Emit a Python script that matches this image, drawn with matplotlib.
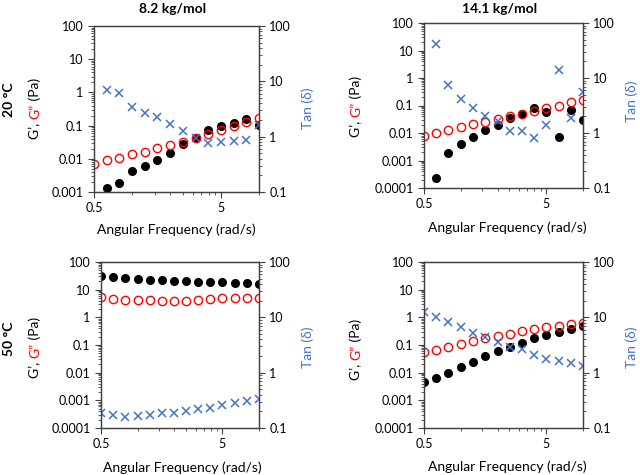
import matplotlib
matplotlib.use("Agg")
import matplotlib.pyplot as plt
import numpy as np
from matplotlib.ticker import FixedLocator, NullFormatter, FuncFormatter, LogLocator

plt.rcParams['font.family'] = ['Lato', 'DejaVu Sans']

# Angular frequency (rad/s)
freq = [0.5, 0.63, 0.79, 1.0, 1.26, 1.58, 2.0, 2.51, 3.16, 3.98, 5.0, 6.31, 7.94, 10.0]
nan = np.nan

# 8.2 kg/mol, 20 C
g1_20 = [nan, 0.0013, 0.0019, 0.0042, 0.0062, 0.0089, 0.015, 0.027, 0.043, 0.076, 0.095, 0.117, 0.158, 0.105]
g2_20 = [0.0069, 0.0089, 0.0107, 0.014, 0.016, 0.021, 0.026, 0.033, 0.042, 0.056, 0.076, 0.095, 0.13, 0.166]
tan_20 = [nan, 6.95, 6.05, 3.44, 2.68, 2.30, 1.72, 1.24, 0.96, 0.78, 0.81, 0.83, 0.86, 1.6]

# 14.1 kg/mol, 20 C
g1_20b = [nan, 0.00024, 0.0018, 0.0039, 0.0069, 0.013, 0.0195, 0.036, 0.049, 0.079, 0.058, 0.0069, 0.069, 0.029]
g2_20b = [0.0078, 0.010, 0.013, 0.016, 0.021, 0.026, 0.033, 0.042, 0.050, 0.064, 0.083, 0.10, 0.13, 0.16]
tan_20b = [nan, 42, 7.4, 4.1, 2.85, 2.0, 1.67, 1.09, 1.09, 0.81, 1.42, 14.0, 1.87, 5.6]

# 8.2 kg/mol, 50 C
g1_50 = [30, 28, 25.7, 24.3, 23, 21.7, 21, 20, 19.4, 18.9, 18.4, 17.4, 16.9, 15.6]
g2_50 = [5.6, 4.7, 4.35, 4.2, 4.1, 4.0, 4.0, 4.0, 4.2, 4.5, 4.9, 5.0, 5.0, 5.1]
tan_50 = [0.19, 0.17, 0.16, 0.165, 0.174, 0.184, 0.19, 0.203, 0.217, 0.233, 0.257, 0.279, 0.303, 0.334]

# 14.1 kg/mol, 50 C
g1_50b = [0.0047, 0.0066, 0.010, 0.0156, 0.025, 0.039, 0.059, 0.087, 0.118, 0.184, 0.236, 0.295, 0.39, 0.47]
g2_50b = [0.056, 0.066, 0.082, 0.109, 0.14, 0.174, 0.217, 0.26, 0.31, 0.37, 0.435, 0.49, 0.56, 0.64]
tan_50b = [12.5, 10.3, 8.4, 6.7, 5.3, 4.5, 3.6, 2.9, 2.7, 2.1, 1.74, 1.65, 1.48, 1.3]

blue = '#4472C4'
W, H = 640, 475
fig = plt.figure(figsize=(6.4, 4.75), dpi=100)

def px(x, y):
    return x / W, 1 - y / H

def fmt(v, pos):
    return '%g' % v

def style_y(a):
    a.yaxis.set_major_locator(LogLocator(base=10, numticks=20))
    a.yaxis.set_major_formatter(FuncFormatter(fmt))
    a.yaxis.set_minor_locator(LogLocator(base=10, subs=np.arange(2, 10), numticks=100))
    a.yaxis.set_minor_formatter(NullFormatter())
    a.tick_params(which='both', direction='out', labelsize=9, color='#404040')
    a.tick_params(which='major', length=4, width=0.8)
    a.tick_params(which='minor', length=2.5, width=0.6)
    for s in a.spines.values():
        s.set_color('#404040')
        s.set_linewidth(0.9)

def make_panel(left, right, top, bottom, gp, gpp, tan, ymin):
    ax = fig.add_axes([left / W, 1 - bottom / H, (right - left) / W, (bottom - top) / H])
    ax.set_xscale('log')
    ax.set_yscale('log')
    ax.plot(freq, gp, 'o', color='black', markersize=5.5, zorder=3)
    ax.plot(freq, gpp, 'o', mfc='none', mec='red', mew=1.0, markersize=6, zorder=4)
    ax.set_xlim(0.5, 10)
    ax.set_ylim(ymin, 100)
    ax.xaxis.set_major_locator(FixedLocator([0.5, 5]))
    ax.xaxis.set_major_formatter(FuncFormatter(fmt))
    ax.xaxis.set_minor_locator(FixedLocator([1, 1.5, 2, 2.5, 3, 3.5, 4, 4.5, 10]))
    ax.xaxis.set_minor_formatter(NullFormatter())
    style_y(ax)

    ax2 = ax.twinx()
    ax2.set_yscale('log')
    ax2.plot(freq, tan, 'x', color=blue, markersize=6, mew=1.1)
    ax2.set_ylim(0.1, 100)
    style_y(ax2)
    return ax, ax2

panels = [
    (94, 259, 26, 192, g1_20, g2_20, tan_20, 0.001),
    (424, 583, 23, 188, g1_20b, g2_20b, tan_20b, 0.0001),
    (101, 259, 262, 428, g1_50, g2_50, tan_50, 0.0001),
    (424, 583, 262, 428, g1_50b, g2_50b, tan_50b, 0.0001),
]
for p in panels:
    make_panel(*p)

fs = 10
# x labels
for xc, yc in [(176, 230), (507, 228), (182, 468), (507, 467)]:
    fig.text(*px(xc, yc), 'Angular Frequency (rad/s)', ha='center', va='center', fontsize=fs)

# right labels
for xc, yc in [(308, 108), (632, 101), (308, 347), (632, 347)]:
    fig.text(*px(xc, yc), 'Tan (δ)', ha='center', va='center', rotation=90, fontsize=fs, color=blue)

# titles and row labels
fig.text(*px(173, 9), '8.2 kg/mol', ha='center', va='center', fontsize=10, fontweight='bold')
fig.text(*px(500, 9), '14.1 kg/mol', ha='center', va='center', fontsize=10, fontweight='bold')
fig.text(*px(9, 100), '20 °C', ha='center', va='center', rotation=90, fontsize=10, fontweight='bold')
fig.text(*px(9, 339), '50 °C', ha='center', va='center', rotation=90, fontsize=10, fontweight='bold')

# left labels with two colours
labels = []
for xc, yc in [(35, 108), (356, 106), (35, 347), (356, 349)]:
    t1 = fig.text(*px(xc, yc), 'G’, ', ha='center', va='bottom', rotation=90, fontsize=fs)
    t2 = fig.text(0, 0, 'G”', ha='center', va='bottom', rotation=90, fontsize=fs, color='red')
    t3 = fig.text(0, 0, ' (Pa)', ha='center', va='bottom', rotation=90, fontsize=fs)
    labels.append((xc, yc, t1, t2, t3))

fig.canvas.draw()
r = fig.canvas.get_renderer()
for xc, yc, t1, t2, t3 in labels:
    h1 = t1.get_window_extent(r).height
    h2 = t2.get_window_extent(r).height
    h3 = t3.get_window_extent(r).height
    total = h1 + h2 + h3
    y0 = (H - yc) - total / 2
    t1.set_position((xc / W, y0 / H))
    t2.set_position((xc / W, (y0 + h1) / H))
    t3.set_position((xc / W, (y0 + h1 + h2) / H))

fig.savefig('out.png', dpi=100)
